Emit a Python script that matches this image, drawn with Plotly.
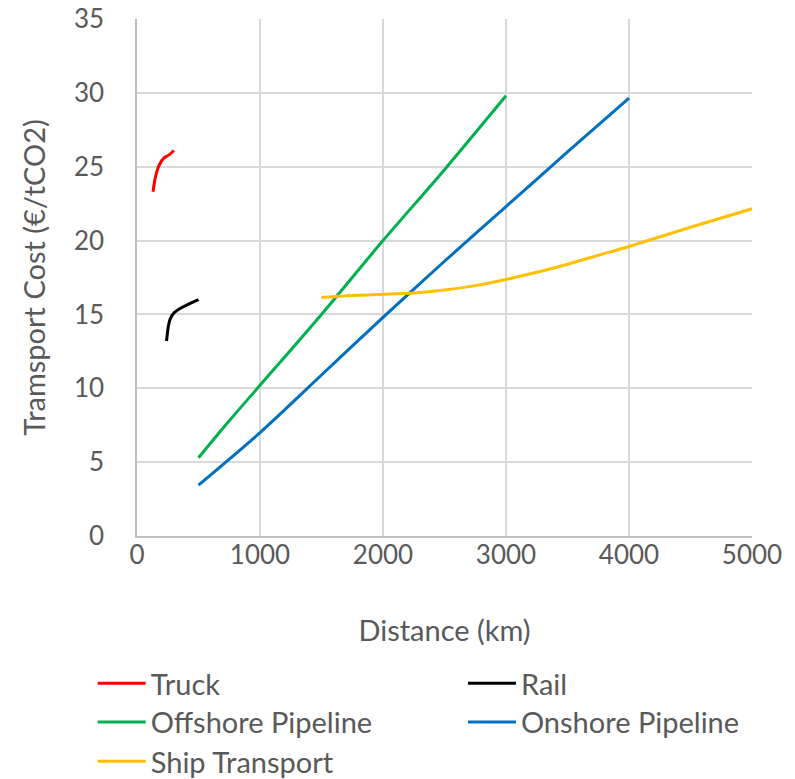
import plotly.graph_objects as go

# Transport cost by mode versus distance
truck_km = [130, 150, 180, 220, 260, 300]
truck_cost = [23.3, 24.3, 25.1, 25.6, 25.8, 26.1]

rail_km = [240, 255, 270, 300, 350, 420, 500]
rail_cost = [13.2, 14.2, 14.7, 15.1, 15.4, 15.7, 16.0]

offshore_km = [500, 750, 1000, 1500, 2000, 2500, 3000]
offshore_cost = [5.3, 7.8, 10.2, 15.0, 20.0, 24.8, 29.8]

onshore_km = [500, 1000, 1500, 2000, 2500, 3000, 3500, 4000]
onshore_cost = [3.45, 7.0, 10.9, 14.8, 18.6, 22.3, 26.0, 29.65]

ship_km = [1500, 1750, 2000, 2250, 2500, 2750, 3000, 3250, 3500, 3750, 4000, 4500, 5000]
ship_cost = [16.15, 16.28, 16.36, 16.45, 16.65, 16.95, 17.37, 17.85, 18.4, 19.0, 19.6, 20.9, 22.15]

x_ticks = [0, 1000, 2000, 3000, 4000, 5000]
y_ticks = [0, 5, 10, 15, 20, 25, 30, 35]

FONT = "Lato, 'Open Sans', sans-serif"
TEXT = "#595959"
GRID = "#D9D9D9"

# name, x, y, colour, legend id, legend x, legend y (paper coords)
series = [
    ("Truck", truck_km, truck_cost, "#FF0000", "legend", -0.072, -0.285),
    ("Rail", rail_km, rail_cost, "#000000", "legend2", 0.53, -0.285),
    ("Offshore Pipeline", offshore_km, offshore_cost, "#00B050", "legend3", -0.072, -0.36),
    ("Onshore Pipeline", onshore_km, onshore_cost, "#0070C0", "legend4", 0.53, -0.36),
    ("Ship Transport", ship_km, ship_cost, "#FFC000", "legend5", -0.072, -0.436),
]

fig = go.Figure()
legends = {}
for name, xs, ys, color, leg, lx, ly in series:
    fig.add_trace(go.Scatter(
        x=xs, y=ys, name=name, mode="lines", showlegend=True,
        line=dict(color=color, width=3, shape="spline", smoothing=0.8),
        legend=leg,
    ))
    legends[leg] = dict(
        orientation="h", x=lx, y=ly, xanchor="left", yanchor="middle",
        font=dict(family=FONT, size=29, color=TEXT),
        bgcolor="rgba(0,0,0,0)", itemwidth=48,
    )

fig.update_layout(
    width=795, height=779,
    margin=dict(l=137, r=43, t=19, b=243, autoexpand=False),
    paper_bgcolor="white", plot_bgcolor="white",
    font=dict(family=FONT, color=TEXT),
    showlegend=True,
    **legends,
    xaxis=dict(
        range=[0, 5000], tickvals=x_ticks,
        showgrid=True, gridcolor=GRID, gridwidth=1.5,
        showline=True, linecolor="#BFBFBF", linewidth=1.5,
        zeroline=False, ticks="", ticklabelstandoff=-5,
        tickfont=dict(family=FONT, size=26, color=TEXT),
        title=dict(text="Distance (km)", font=dict(family=FONT, size=29, color=TEXT), standoff=52),
    ),
    yaxis=dict(
        range=[0, 35], tickvals=y_ticks,
        showgrid=True, gridcolor=GRID, gridwidth=1.5,
        showline=True, linecolor="#BFBFBF", linewidth=1.5,
        zeroline=False, ticks="", ticklabelstandoff=26,
        tickfont=dict(family=FONT, size=26, color=TEXT),
        title=dict(text="Tramsport Cost (€/tCO2)", font=dict(family=FONT, size=29, color=TEXT), standoff=20),
    ),
)

fig.write_html("out.html")
